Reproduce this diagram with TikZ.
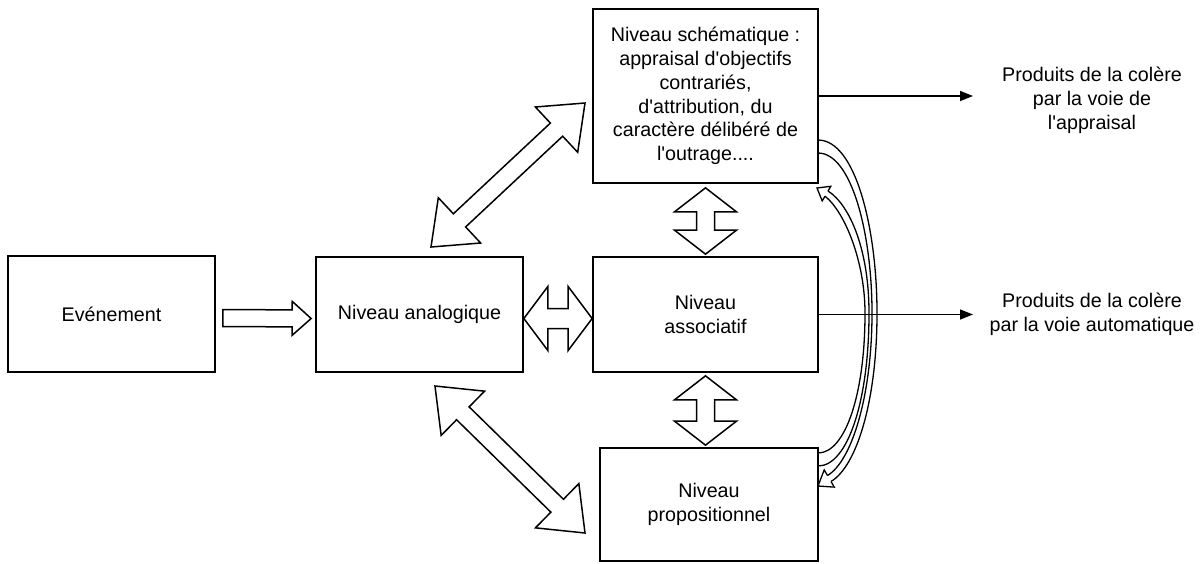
\documentclass[tikz,border=0pt]{standalone}
\usepackage{fontspec}
\setmainfont{Liberation Sans}[Ligatures=TeXOff]
\usetikzlibrary{calc,arrows.meta}

% hollow double-headed block arrow between tips #1 and #2
% #3 shaft half-width, #4 head half-width, #5 head length
\newcommand\dblblock[5]{%
  \draw[blockarrow] (#1)
    -- ($(#1)!#5!(#2)!#4!90:(#2)$)
    -- ($(#1)!#5!(#2)!#3!90:(#2)$)
    -- ($(#2)!#5!(#1)!#3!-90:(#1)$)
    -- ($(#2)!#5!(#1)!#4!-90:(#1)$)
    -- (#2)
    -- ($(#2)!#5!(#1)!#4!90:(#1)$)
    -- ($(#2)!#5!(#1)!#3!90:(#1)$)
    -- ($(#1)!#5!(#2)!#3!-90:(#2)$)
    -- ($(#1)!#5!(#2)!#4!-90:(#2)$)
    -- cycle;}

% hollow single-headed block arrow from tail #1 to tip #2
\newcommand\sglblock[5]{%
  \draw[blockarrow] ($(#1)!#3!90:(#2)$)
    -- ($(#2)!#5!(#1)!#3!-90:(#1)$)
    -- ($(#2)!#5!(#1)!#4!-90:(#1)$)
    -- (#2)
    -- ($(#2)!#5!(#1)!#4!90:(#1)$)
    -- ($(#2)!#5!(#1)!#3!90:(#1)$)
    -- ($(#1)!#3!-90:(#2)$)
    -- cycle;}

\begin{document}
\begin{tikzpicture}[x=1pt,y=-1pt,
  box/.style={draw, line width=1.7pt, rectangle, inner sep=0pt, align=center,
    font=\fontsize{19.7}{23.8}\selectfont},
  outtext/.style={align=center, inner sep=0pt, font=\fontsize{19.7}{23.8}\selectfont},
  blockarrow/.style={draw, line width=1.5pt, fill=white, line join=miter},
  outarrow/.style={line width=1.5pt, -{Triangle[length=13pt,width=10pt]}},
  bendline/.style={line width=1.3pt, line join=miter},
]
\useasboundingbox (0,0) rectangle (1201,563);

% levels
\node[box, minimum width=207pt, minimum height=116pt] (ev)   at (111.5,314)   {Evénement};
\node[box, minimum width=207pt, minimum height=115pt] (ana)  at (419.5,314.5) {Niveau analogique};
\node[box, minimum width=225pt, minimum height=115pt] (asso) at (705.5,314.5) {Niveau\\associatif};
\node[box, minimum width=225pt, minimum height=174pt] (sch)  at (705.5,96)
  {Niveau schématique :\\appraisal d'objectifs\\contrariés,\\d'attribution, du\\caractère délibéré de\\l'outrage....};
\node[box, minimum width=218pt, minimum height=113pt] (prop) at (709,504.5)  {Niveau\\propositionnel};

% outputs
\node[outtext] (o1) at (1092,100) {Produits de la colère\\par la voie de\\l'appraisal};
\node[outtext] (o2) at (1092,314) {Produits de la colère\\par la voie automatique};

% block arrow tips
\coordinate (e1) at ($(ev.east)+(7,4)$);
\coordinate (e2) at ($(ana.west)+(-4,4)$);
\coordinate (h1) at ($(ana.east)+(0,4)$);
\coordinate (h2) at ($(asso.west)+(0,4)$);
\coordinate (v1) at ($(sch.south)+(0,4)$);
\coordinate (v2) at ($(asso.north)+(0,-2)$);
\coordinate (v3) at ($(asso.south)+(0,3)$);
\coordinate (v4) at ($(asso.south |- prop.north)+(0,-2)$);
\coordinate (d1) at (431,247);
\coordinate (d2) at (585,103);
\coordinate (d3) at (435,386);
\coordinate (d4) at (585,533);

\sglblock{e1}{e2}{8.5pt}{17pt}{19pt}
\dblblock{h1}{h2}{10pt}{32pt}{24pt}
\dblblock{v1}{v2}{9pt}{31pt}{24pt}
\dblblock{v3}{v4}{9pt}{31pt}{24pt}
\dblblock{d1}{d2}{9pt}{31pt}{39pt}
\dblblock{d3}{d4}{9pt}{31pt}{39pt}

% curved hollow arrow: schematique -> propositionnel (outer)
\draw[bendline] (818,140) .. controls (856,140) and (877,230) .. (877,313)
  .. controls (877,400) and (857,466) .. (831,481.5);
\draw[bendline] (818,153) .. controls (852,153) and (872,235) .. (872,313)
  .. controls (872,395) and (852,461) .. (827.5,475.5);
\draw[bendline] (831,481.5) -- (834.2,487.1) -- (818,486) -- (824.2,469.9) -- (827.5,475.5);

% curved hollow arrow: propositionnel -> schematique (inner)
\draw[bendline] (818,466) .. controls (848,466) and (869,400) .. (869,313)
  .. controls (869,250) and (850,205) .. (828,191);
\draw[bendline] (818,453) .. controls (845,453) and (865,395) .. (865,313)
  .. controls (865,262) and (845,212) .. (825,196.2);
\draw[bendline] (828,191) -- (830.8,186.3) -- (817,188) -- (822.2,200.9) -- (825,196.2);

% output connectors
\coordinate (p1) at (973,96);
\coordinate (p2) at (973,314.5);
\draw[outarrow] (sch.east) -- (p1);
\draw[outarrow] (asso.east) -- (p2);
\end{tikzpicture}
\end{document}
